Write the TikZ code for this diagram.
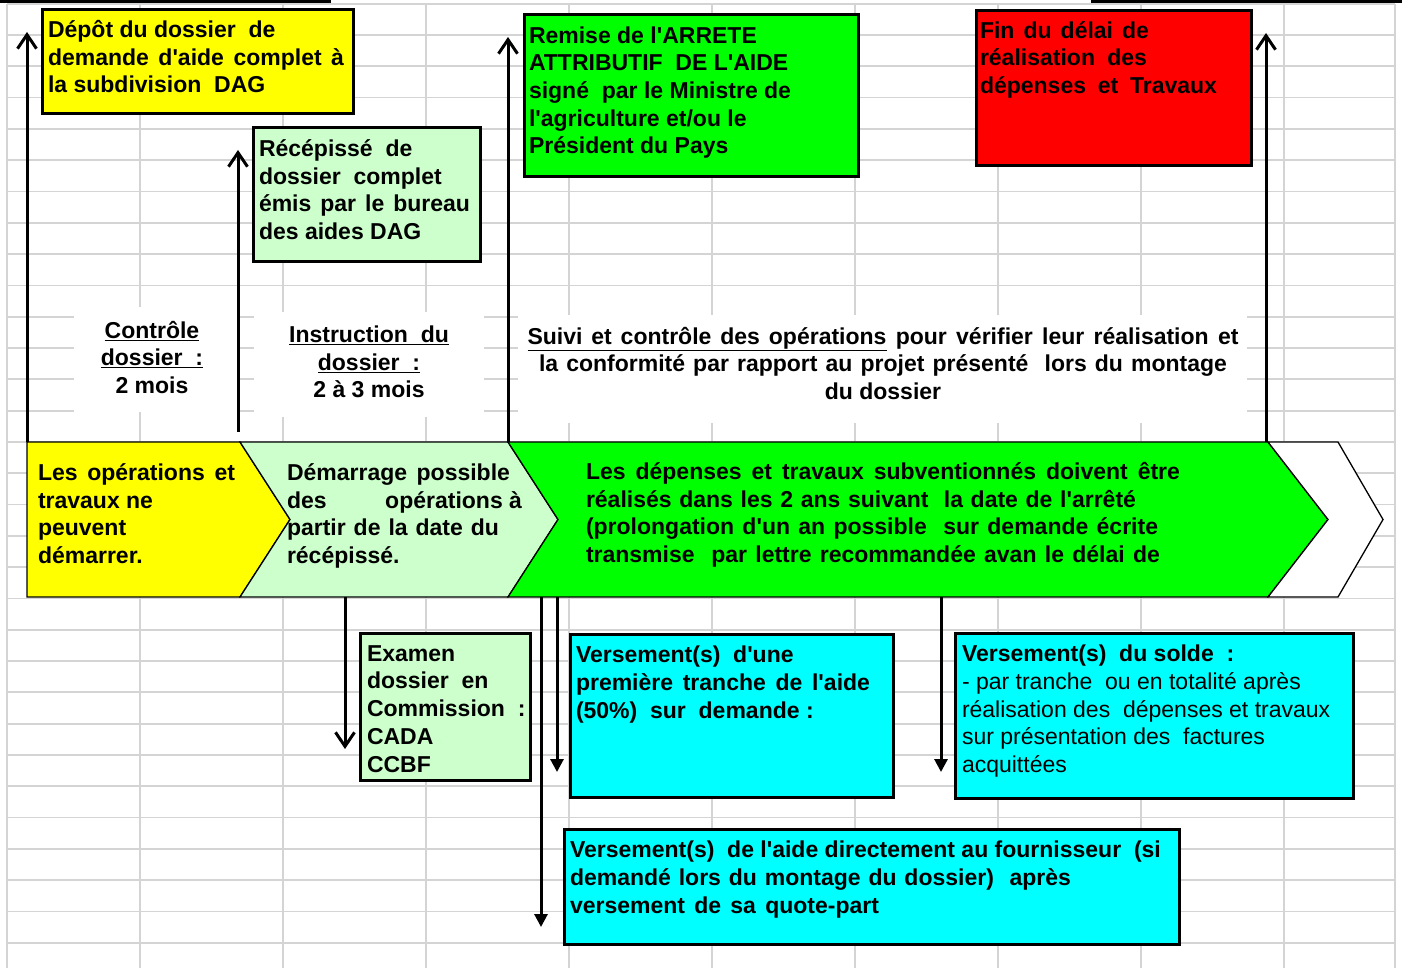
\documentclass[tikz,border=0pt]{standalone}
\usepackage{fontspec}
\setmainfont{Liberation Sans}
\usetikzlibrary{arrows.meta}
\definecolor{gridc}{RGB}{212,212,212}
\definecolor{lgreen}{RGB}{204,255,204}
\definecolor{fgreen}{RGB}{0,255,0}
\definecolor{fcyan}{RGB}{0,255,255}
\definecolor{fyellow}{RGB}{255,255,0}
\definecolor{fred}{RGB}{255,0,0}
\newcommand{\ap}{\textquotesingle}
\newcommand{\fw}[2]{\makebox[#1][s]{#2}}
\begin{document}
\begin{tikzpicture}[x=1pt,y=-1pt,
  gridline/.style={draw=gridc, line width=1.8pt},
  box/.style={draw=black, line width=3pt, fill=#1, outer sep=0pt, inner sep=0pt, anchor=north west},
  wlab/.style={fill=white, outer sep=0pt, inner sep=0pt, anchor=north west},
  % multi-line texts are placed by the baseline of their LAST line
  txt/.style={inner sep=0pt, outer sep=0pt, anchor=base west, align=left, font=\fontsize{23}{27.7}\selectfont\bfseries},
  ctxt/.style={inner sep=0pt, outer sep=0pt, anchor=base, align=center, font=\fontsize{23}{27.3}\selectfont\bfseries},
  chev/.style={draw=black, line width=1.3pt, line join=miter},
  uparrow/.style={line width=3pt, -{Straight Barb[length=14pt,width=19pt]}},
  openarrow/.style={line width=3pt, -{Straight Barb[length=14pt,width=19pt]}},
  fillarrow/.style={line width=3pt, -{Triangle[length=13pt,width=13pt]}}
]
\useasboundingbox (0,0) rectangle (1402,968);
% spreadsheet grid
\foreach \gx in {7,140,283,426,569,712,855,998,1141,1284,1395}
  \draw[gridline] (\gx,4) -- (\gx,968);
\draw[gridline] (7,4) -- (1395,4);
\foreach \k in {0,...,29}
  \draw[gridline] (7,{35+31.3*\k}) -- (1395,{35+31.3*\k});
\fill[black] (0,0) rectangle (331,3);
\fill[black] (1091,0) rectangle (1402,3);

% white label areas
\node[wlab, minimum width=163pt, minimum height=105pt] (w1) at (74,307) {};
\node[wlab, minimum width=230pt, minimum height=105pt] (w2) at (254,312) {};
\node[wlab, minimum width=729pt, minimum height=108pt] (w3) at (518,315) {};

\node[ctxt] (ctrl) at (152,393) {\underline{Contrôle}\\\underline{dossier\ \ :}\\2 mois};
\node[ctxt] (instr) at (369,397.5) {\underline{Instruction\ \ du}\\\underline{dossier\ \ :}\\2 à 3 mois};
\node[ctxt] (suivi) at (883,399) {\fw{711pt}{\underline{\fw{359pt}{Suivi et contrôle des opérations}} pour vérifier leur réalisation et}\\\fw{688pt}{la conformité par rapport au projet présenté\ \ lors du montage}\\du dossier};

% chevron band
\draw[chev, fill=fyellow] (27,442) -- (240,442) -- (290,519.5) -- (240,597) -- (27,597) -- cycle;
\draw[chev, fill=lgreen] (240,442) -- (508,442) -- (558,519.5) -- (508,597) -- (240,597) -- (290,519.5) -- cycle;
\draw[chev, fill=fgreen] (508,442) -- (1268,442) -- (1328,519.5) -- (1268,597) -- (508,597) -- (558,519.5) -- cycle;
\draw[chev, fill=white] (1268,442) -- (1338,442) -- (1383,519.5) -- (1338,597) -- (1268,597) -- (1328,519.5) -- cycle;

\node[txt] (ch1) at (38,563.5) {\fw{197pt}{Les opérations et}\\travaux ne\\peuvent\\démarrer.};
\node[txt] (ch2) at (287,563.5) {\fw{223pt}{Démarrage possible}\\\hbox to 235pt{des\hfill opérations à}\\\fw{212pt}{partir de la date du}\\récépissé.};
\node[txt] (ch3) at (586,562.5) {\fw{594pt}{Les dépenses et travaux subventionnés doivent être}\\\fw{550pt}{réalisés dans les 2 ans suivant\ \ la date de l\ap arrêté}\\\fw{572pt}{(prolongation d\ap un an possible\ \ sur demande écrite}\\\fw{574pt}{transmise\ \ par lettre recommandée avan le délai de}};

% arrow anchor coordinates
\coordinate (a1s) at (27,442);   \coordinate (a1e) at (27,32);
\coordinate (a2s) at (238,432);  \coordinate (a2e) at (238,150);
\coordinate (a3s) at (508,442);  \coordinate (a3e) at (508,37);
\coordinate (a4s) at (1266,442); \coordinate (a4e) at (1266,33);
\coordinate (d1s) at (345,597);  \coordinate (d1e) at (345,749);
\coordinate (d2s) at (557,597);  \coordinate (d2e) at (557,772);
\coordinate (d3s) at (541,597);  \coordinate (d3e) at (541,927);
\coordinate (d4s) at (941,597);  \coordinate (d4e) at (941,772);

\draw[uparrow] (a1s) -- (a1e);
\draw[uparrow] (a2s) -- (a2e);
\draw[uparrow] (a3s) -- (a3e);
\draw[uparrow] (a4s) -- (a4e);
\draw[openarrow] (d1s) -- (d1e);
\draw[fillarrow] (d2s) -- (d2e);
\draw[fillarrow] (d3s) -- (d3e);
\draw[fillarrow] (d4s) -- (d4e);

% top boxes
\node[box=fyellow, minimum width=311pt, minimum height=104pt] (depot) at (42.5,9.5) {};
\node[txt] (depott) at (48,93) {Dépôt du dossier\ \ de\\\fw{296pt}{demande d\ap aide complet à}\\la subdivision\ \ DAG};
\node[box=lgreen, minimum width=227pt, minimum height=134pt] (recep) at (253.5,127.5) {};
\node[txt] (recept) at (259,239.5) {Récépissé\ \ de\\dossier\ \ complet\\\fw{211pt}{émis par le bureau}\\des aides DAG};
\node[box=fgreen, minimum width=334pt, minimum height=162pt] (remise) at (524.5,14.5) {};
\node[txt] (remiset) at (529,154) {Remise de l\ap ARRETE\\ATTRIBUTIF\ \ DE L\ap AIDE\\signé\ \ par le Ministre de\\l\ap agriculture et/ou le\\Président du Pays};
\node[box=fred, minimum width=275pt, minimum height=155pt] (fin) at (976.5,10.5) {};
\node[txt] (fint) at (980,93.5) {\fw{169pt}{Fin du délai de}\\\fw{167pt}{réalisation des}\\\fw{237pt}{dépenses et Travaux}};

% bottom boxes
\node[box=lgreen, minimum width=170pt, minimum height=147pt] (examen) at (360.5,633.5) {};
\node[txt] (exament) at (367,772) {Examen\\dossier\ \ en\\Commission\ \ :\\CADA\\CCBF};
\node[box=fcyan, minimum width=323pt, minimum height=163pt] (vers1) at (570.5,634.5) {};
\node[txt] (vers1t) at (576,718) {Versement(s)\ \ d\ap une\\\fw{294pt}{première tranche de l\ap aide}\\(50\%)\ \ sur\ \ demande :};
\node[box=fcyan, minimum width=615pt, minimum height=115pt] (vers2) at (564.5,829.5) {};
\node[txt] (vers2t) at (570,913) {Versement(s)\ \ de l\ap aide directement au fournisseur\ \ (si\\\fw{501pt}{demandé lors du montage du dossier)\ \ après}\\\fw{309pt}{versement de sa quote-part}};
\node[box=fcyan, minimum width=398pt, minimum height=165pt] (solde) at (955.5,633.5) {};
\node[txt] (soldet) at (962,772.5) {Versement(s)\ \ du solde\ \ :\\\mdseries - par tranche\ \ ou en totalité après\\\mdseries réalisation des\ \ dépenses et travaux\\\mdseries sur présentation des\ \ factures\\\mdseries acquittées};
\end{tikzpicture}
\end{document}
